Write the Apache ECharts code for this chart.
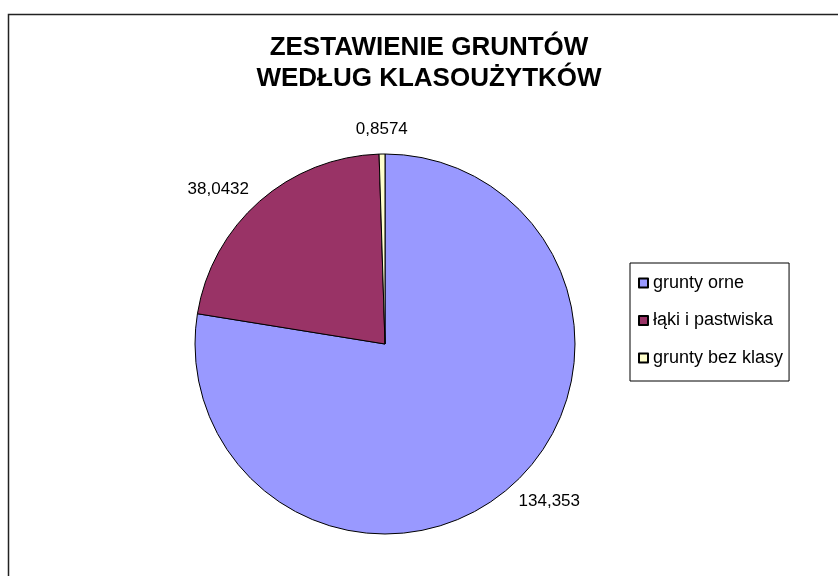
<!DOCTYPE html>
<html>
<head>
<meta charset="utf-8">
<script src="https://cdn.jsdelivr.net/npm/echarts@6/dist/echarts.min.js"></script>
<style>
  html, body { margin: 0; padding: 0; background: #fff; }
  #chart { width: 838px; height: 576px; }
</style>
</head>
<body>
<div id="chart"></div>
<script>
// land use breakdown (ha)
const categories = ['grunty orne', 'łąki i pastwiska', 'grunty bez klasy'];
const values = [134.353, 38.0432, 0.8574];
const colors = ['#9999FF', '#993366', '#FFFFCC'];
const titleLines = ['ZESTAWIENIE GRUNTÓW', 'WEDŁUG KLASOUŻYTKÓW'];

const FONT = "'Liberation Sans', Arial, sans-serif";

// Polish decimal comma
const fmt = (v) => String(v).replace('.', ',');

const chart = echarts.init(document.getElementById('chart'));

const option = {
  animation: false,
  color: colors,
  graphic: [
    {
      // chart area frame, runs off the right and bottom edges
      type: 'rect',
      shape: { x: 8.5, y: 14.5, width: 900, height: 700 },
      style: { fill: 'none', stroke: '#222', lineWidth: 1.5 },
      silent: true,
      z: -1,
    },
    {
      type: 'text',
      x: 429,
      y: 63,
      style: {
        text: titleLines.join('\n'),
        font: 'bold 26px ' + FONT,
        fill: '#000',
        align: 'center',
        verticalAlign: 'middle',
        lineHeight: 31,
      },
      silent: true,
    },
  ],
  legend: {
    orient: 'vertical',
    left: 630,
    top: 263,
    padding: [11, 6, 14, 8],
    itemGap: 19.5,
    itemWidth: 9,
    itemHeight: 9,
    icon: 'rect',
    backgroundColor: '#fff',
    borderColor: '#000',
    borderWidth: 1,
    textStyle: { color: '#000', fontSize: 18, fontFamily: FONT, padding: [0, 0, 0, 0] },
    data: categories,
  },
  series: [
    {
      type: 'pie',
      center: [385, 344],
      radius: 190,
      startAngle: 90,
      clockwise: true,
      avoidLabelOverlap: false,
      emphasis: { disabled: true },
      itemStyle: { borderColor: '#000', borderWidth: 1 },
      label: {
        show: true,
        position: 'outside',
        color: '#000',
        fontSize: 17,
        fontFamily: FONT,
        distanceToLabelLine: 0,
        formatter: (p) => fmt(p.value),
      },
      labelLine: { show: false, length: 16, length2: 0 },
      labelLayout: (p) => {
        // the tiny slice at 12 o'clock gets its label centred above it
        if (p.dataIndex === 2) return { align: 'center', verticalAlign: 'bottom' };
        return {};
      },
      data: categories.map((name, i) => ({ name, value: values[i] })),
    },
  ],
};

chart.setOption(option);
</script>
</body>
</html>
